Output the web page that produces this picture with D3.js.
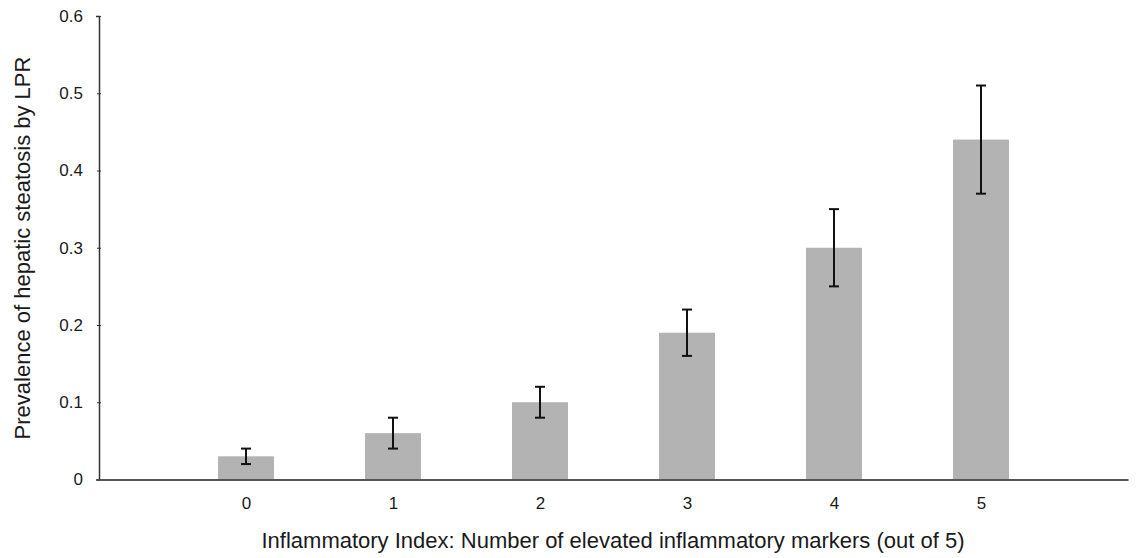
<!DOCTYPE html>
<html><head><meta charset="utf-8">
<script src="https://cdn.jsdelivr.net/npm/d3@7"></script>
<style>body{margin:0;background:#fff;} text{font-family:"Liberation Sans",Arial,Helvetica,sans-serif;fill:#1a1a1a;}</style>
</head><body><svg id="c" width="1138" height="558"></svg>
<script>
const categories = [0, 1, 2, 3, 4, 5];
const prevalence = [0.03, 0.06, 0.10, 0.19, 0.30, 0.44];
const errLow = [0.02, 0.04, 0.08, 0.16, 0.25, 0.37];
const errHigh = [0.04, 0.08, 0.12, 0.22, 0.35, 0.51];
const yTicks = [0, 0.1, 0.2, 0.3, 0.4, 0.5, 0.6];

const svg = d3.select("#c");
const x = d3.scaleLinear().domain([-1, 6]).range([99, 1128]);
const y = d3.scaleLinear().domain([0, 0.6]).range([479.5, 16]);
const barW = 56;

// bars
svg.append("g").selectAll("rect").data(categories).join("rect")
  .attr("x", (d) => x(d) - barW/2)
  .attr("width", barW)
  .attr("y", (d, i) => y(prevalence[i]))
  .attr("height", (d, i) => y(0) - y(prevalence[i]))
  .attr("fill", "#b3b3b3");

// error bars
const eb = svg.append("g").attr("stroke", "#111").attr("stroke-width", 2);
categories.forEach((d, i) => {
  const cx = x(d);
  eb.append("line").attr("x1", cx).attr("x2", cx).attr("y1", y(errLow[i])).attr("y2", y(errHigh[i]));
  eb.append("line").attr("x1", cx-5).attr("x2", cx+5).attr("y1", y(errLow[i])).attr("y2", y(errLow[i]));
  eb.append("line").attr("x1", cx-5).attr("x2", cx+5).attr("y1", y(errHigh[i])).attr("y2", y(errHigh[i]));
});

// y axis
const yAxis = d3.axisLeft(y).tickValues(yTicks).tickFormat(d => d === 0 ? "0" : d3.format(".1f")(d)).tickSize(3).tickPadding(13);
const gy = svg.append("g").attr("transform", "translate(99,0)").call(yAxis);
gy.attr("font-size", 17).attr("font-family", null);
gy.select(".domain").attr("stroke", "#333").attr("stroke-width", 1.5);
gy.selectAll(".tick line").attr("stroke", "#333").attr("x2", -2).attr("x1", 2);
gy.selectAll(".tick text").attr("fill", "#1a1a1a");

// x axis
const xAxis = d3.axisBottom(x).tickValues(categories).tickFormat(d3.format("d")).tickSize(0).tickPadding(17);
const gx = svg.append("g").attr("transform", `translate(0,${y(0)})`).call(xAxis);
gx.attr("font-size", 17).attr("font-family", null);
gx.select(".domain").attr("stroke", "#555").attr("stroke-width", 2);
gx.selectAll(".tick text").attr("fill", "#1a1a1a");

// titles
svg.append("text").attr("x", 613).attr("y", 548).attr("text-anchor", "middle").attr("font-size", 22)
  .text("Inflammatory Index: Number of elevated inflammatory markers (out of 5)");
svg.append("text").attr("transform", "translate(30,248) rotate(-90)").attr("text-anchor", "middle").attr("font-size", 22)
  .text("Prevalence of hepatic steatosis by LPR");
</script></body></html>
